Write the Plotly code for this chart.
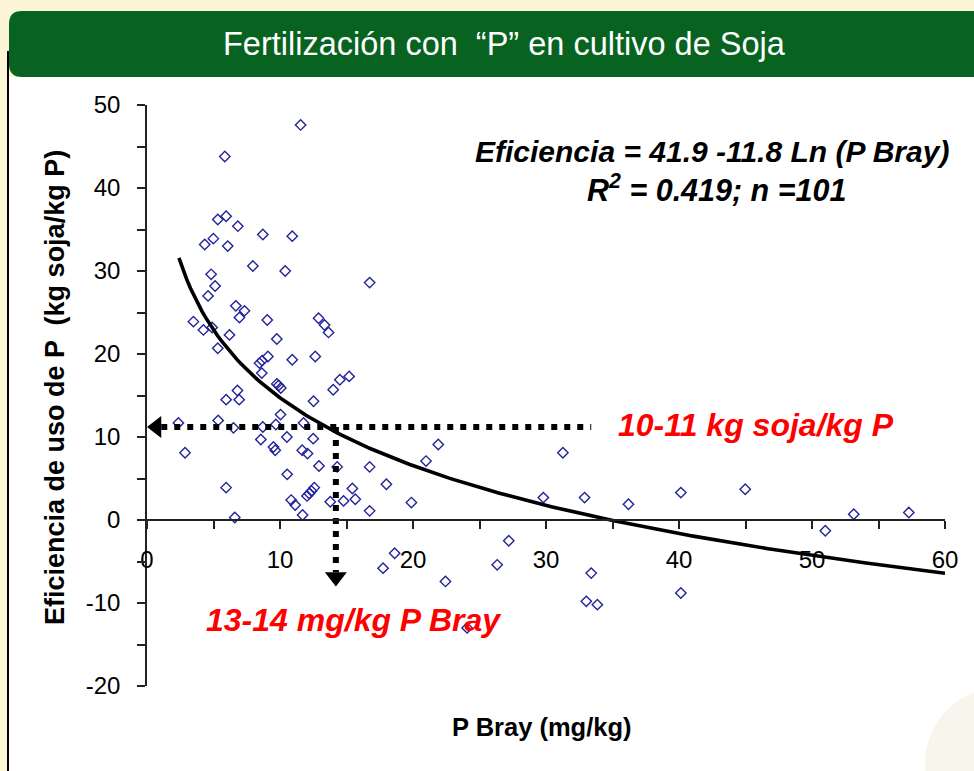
import numpy as np
import plotly.graph_objects as go

# ---------------- data ----------------
p_bray = [11.55, 5.85, 5.32, 5.95, 6.83, 8.71, 10.92, 4.34, 4.99, 6.07,
          7.96, 10.39, 16.74, 4.82, 5.12, 4.59, 6.68, 7.33, 6.95, 9.04,
          3.49, 4.24, 4.90, 12.90, 13.35, 13.65, 6.20, 9.76, 5.32, 8.46,
          8.65, 9.09, 10.92, 12.65, 8.63, 9.76, 10.06, 9.90, 14.00, 14.50,
          15.20, 6.80, 5.95, 6.93, 12.52, 10.04, 2.36, 5.35, 6.50, 8.71,
          9.69, 11.77, 8.56, 10.52, 12.50, 2.86, 9.51, 9.64, 11.67, 12.07,
          12.93, 14.30, 16.74, 10.54, 5.95, 15.44, 12.58, 12.37, 12.20, 12.03,
          15.66, 10.84, 11.14, 13.78, 14.78, 16.74, 11.70, 6.60, 21.90, 20.98,
          31.27, 18.00, 19.88, 29.80, 27.20, 18.62, 17.75, 26.33, 22.44, 24.07,
          33.40, 33.03, 33.86, 36.20, 32.90, 40.14, 44.98, 53.14, 57.28, 51.00,
          40.14]
eficiencia = [47.6, 43.8, 36.2, 36.6, 35.4, 34.4, 34.2, 33.2, 33.9, 33.0,
              30.6, 30.0, 28.6, 29.6, 28.2, 27.0, 25.8, 25.2, 24.4, 24.1,
              23.9, 22.9, 23.2, 24.3, 23.5, 22.6, 22.3, 21.8, 20.7, 18.9,
              19.2, 19.7, 19.3, 19.7, 17.7, 16.4, 15.9, 16.2, 15.7, 16.9,
              17.3, 15.6, 14.5, 14.5, 14.3, 12.7, 11.7, 12.0, 11.1, 11.2,
              11.5, 11.7, 9.7, 10.0, 9.8, 8.1, 8.8, 8.4, 8.4, 8.0,
              6.5, 6.4, 6.4, 5.5, 3.9, 3.8, 3.9, 3.5, 3.2, 2.9,
              2.5, 2.4, 1.8, 2.2, 2.3, 1.1, 0.6, 0.3, 9.1, 7.1,
              8.1, 4.3, 2.1, 2.7, -2.5, -4.0, -5.8, -5.4, -7.4, -13.0,
              -6.4, -9.8, -10.2, 1.9, 2.7, 3.3, 3.7, 0.7, 0.9, -1.3,
              -8.8]

# regression printed on the chart: Eficiencia = 41.9 - 11.8 Ln(P Bray)
fit_a = 41.9
fit_b = -11.8
fit_x_start = 2.4
fit_x_end = 60.0

# guide lines (10-11 kg soja/kg P  <->  13-14 mg/kg P Bray)
guide_eff = 11.2
guide_p = 14.2
guide_h_end = 33.4
arrow_down_tip = -8.0

x_tick_vals = [0, 10, 20, 30, 40, 50, 60]
x_tick_text = ["0", "10", "20", "30", "40", "50", "60"]
y_tick_vals = [-20, -10, 0, 10, 20, 30, 40, 50]
y_tick_text = ["-20", "-10", "0", "10", "20", "30", "40", "50"]
x_range = [0, 60]
y_range = [-20, 50]

title_text = "Fertilización con  “P” en cultivo de Soja"
eq_text = "Eficiencia = 41.9 -11.8 Ln (P Bray)"
r2_text = "R<sup>2</sup> = 0.419; n =101"
eff_note = "10-11 kg soja/kg P"
p_note = "13-14 mg/kg P Bray"
y_title = "Eficiencia de uso de P  (kg soja/kg P)"
x_title = "P Bray (mg/kg)"

# ---------------- layout geometry (pixels) ----------------
W, H = 974, 771
PL, PR, PT, PB = 147, 945, 105, 686
def fx(px):
    return px / W
def fy(py):
    return 1 - py / H

px_per_x = (PR - PL) / (x_range[1] - x_range[0])
px_per_y = (PB - PT) / (y_range[1] - y_range[0])

FONT = "Liberation Sans, Arial, sans-serif"
BLUE = "#23239a"

fig = go.Figure()

# scatter points
fig.add_trace(go.Scatter(
    x=p_bray, y=eficiencia, mode="markers",
    marker=dict(symbol="diamond-open", size=8, color=BLUE,
                line=dict(width=1.4, color=BLUE)),
    hoverinfo="x+y", showlegend=False))

# fitted curve
fit_x = np.linspace(fit_x_start, fit_x_end, 200)
fit_y = fit_a + fit_b * np.log(fit_x)
fig.add_trace(go.Scatter(x=fit_x, y=fit_y, mode="lines",
                         line=dict(color="black", width=3.6),
                         hoverinfo="skip", showlegend=False))

# dotted guide lines
tri_r = 9.5  # marker radius in px
h_start = x_range[0] + 1.5 * tri_r / px_per_x
fig.add_trace(go.Scatter(x=[h_start, guide_h_end], y=[guide_eff, guide_eff],
                         mode="lines",
                         line=dict(color="black", width=6, dash="6px,7px"),
                         hoverinfo="skip", showlegend=False))
v_end = arrow_down_tip + 1.5 * tri_r / px_per_y
fig.add_trace(go.Scatter(x=[guide_p, guide_p], y=[guide_eff, v_end],
                         mode="lines",
                         line=dict(color="black", width=6, dash="6px,7px"),
                         hoverinfo="skip", showlegend=False))
# arrow heads
fig.add_trace(go.Scatter(x=[x_range[0] + tri_r / px_per_x], y=[guide_eff],
                         mode="markers",
                         marker=dict(symbol="triangle-left", size=2 * tri_r,
                                     color="black", line=dict(width=0)),
                         hoverinfo="skip", showlegend=False))
fig.add_trace(go.Scatter(x=[guide_p], y=[arrow_down_tip + tri_r / px_per_y],
                         mode="markers",
                         marker=dict(symbol="triangle-down", size=2 * tri_r,
                                     color="black", line=dict(width=0)),
                         hoverinfo="skip", showlegend=False))

# ---------------- background shapes ----------------
shapes = []
# white panel
shapes.append(dict(type="rect", xref="paper", yref="paper",
                   x0=fx(9), x1=fx(W), y0=fy(H), y1=fy(77),
                   fillcolor="white", line=dict(width=0), layer="below"))
# faint decorative blob bottom-right
shapes.append(dict(type="circle", xref="paper", yref="paper",
                   x0=fx(925), x1=fx(1060), y0=fy(840), y1=fy(690),
                   fillcolor="rgba(236,226,200,0.35)", line=dict(width=0), layer="below"))
# green header with rounded left corners
r = 13
hx0, hx1, hy0, hy1 = 9, W + 2, 11, 77
path = (f"M {fx(hx0)},{fy(hy0 + r)} "
        f"Q {fx(hx0)},{fy(hy0)} {fx(hx0 + r)},{fy(hy0)} "
        f"L {fx(hx1)},{fy(hy0)} L {fx(hx1)},{fy(hy1)} "
        f"L {fx(hx0 + r)},{fy(hy1)} "
        f"Q {fx(hx0)},{fy(hy1)} {fx(hx0)},{fy(hy1 - r)} Z")
shapes.append(dict(type="path", xref="paper", yref="paper", path=path,
                   fillcolor="#07631f", line=dict(width=0), layer="below"))
# black left rule
shapes.append(dict(type="line", xref="paper", yref="paper",
                   x0=fx(8), x1=fx(8), y0=fy(51), y1=fy(H),
                   line=dict(color="black", width=2), layer="below"))

# ---------------- annotations ----------------
ann = []
ann.append(dict(text=title_text, xref="paper", yref="paper",
                x=fx(504), y=fy(44), showarrow=False,
                font=dict(family=FONT, size=32.5, color="white"),
                xanchor="center", yanchor="middle"))
ann.append(dict(text=f"<b><i>{eq_text}</i></b>", xref="paper", yref="paper",
                x=fx(951), y=fy(152), showarrow=False,
                font=dict(family=FONT, size=30, color="black"),
                xanchor="right", yanchor="middle"))
ann.append(dict(text=f"<b><i>{r2_text}</i></b>", xref="paper", yref="paper",
                x=fx(716), y=fy(188), showarrow=False,
                font=dict(family=FONT, size=30.5, color="black"),
                xanchor="center", yanchor="middle"))
ann.append(dict(text=f"<b><i>{eff_note}</i></b>", xref="paper", yref="paper",
                x=fx(616), y=fy(425), showarrow=False,
                font=dict(family=FONT, size=32, color="#ff0000"),
                xanchor="left", yanchor="middle"))
ann.append(dict(text=f"<b><i>{p_note}</i></b>", xref="paper", yref="paper",
                x=fx(204), y=fy(620), showarrow=False,
                font=dict(family=FONT, size=32, color="#ff0000"),
                xanchor="left", yanchor="middle"))
ann.append(dict(text=f"<b>{y_title}</b>", xref="paper", yref="paper",
                x=fx(55), y=fy(388), showarrow=False, textangle=-90,
                font=dict(family=FONT, size=27, color="black"),
                xanchor="center", yanchor="middle"))
ann.append(dict(text=f"<b>{x_title}</b>", xref="paper", yref="paper",
                x=fx(542), y=fy(727), showarrow=False,
                font=dict(family=FONT, size=25.5, color="black"),
                xanchor="center", yanchor="middle"))

zero_pos = fy(PB - (0 - y_range[0]) * px_per_y)

fig.update_layout(
    width=W, height=H, autosize=False,
    margin=dict(l=0, r=0, t=0, b=0, pad=0),
    paper_bgcolor="#fcf5d8",
    plot_bgcolor="rgba(0,0,0,0)",
    showlegend=False,
    shapes=shapes,
    annotations=ann,
    xaxis=dict(domain=[fx(PL), fx(PR)], range=x_range,
               anchor="free", position=zero_pos, automargin=False,
               tickmode="array", tickvals=x_tick_vals, ticktext=x_tick_text,
               ticks="outside", ticklen=8,
               tickwidth=1.6, tickcolor="#222",
               showline=True, linecolor="#222", linewidth=1.6,
               showgrid=False, zeroline=False,
               minor=dict(dtick=5, ticks="outside", ticklen=8,
                          tickwidth=1.6, tickcolor="#222", showgrid=False),
               tickfont=dict(family=FONT, size=24, color="black"),
               ticklabelstandoff=10),
    yaxis=dict(domain=[fy(PB), fy(PT)], range=y_range, automargin=False,
               tickmode="array", tickvals=y_tick_vals, ticktext=y_tick_text,
               ticks="outside", ticklen=8,
               tickwidth=1.6, tickcolor="#222",
               showline=True, linecolor="#222", linewidth=1.6,
               showgrid=False, zeroline=False,
               minor=dict(dtick=5, ticks="outside", ticklen=8,
                          tickwidth=1.6, tickcolor="#222", showgrid=False),
               tickfont=dict(family=FONT, size=24, color="black"),
               ticklabelstandoff=12),
)

fig.write_html(
    "out.html",
    config={"responsive": False, "displayModeBar": False},
    post_script=("document.documentElement.style.margin='0';"
                 "document.body.style.margin='0';"
                 "document.body.style.padding='0';"
                 "document.documentElement.style.overflow='hidden';"
                 "document.body.style.overflow='hidden';"),
)
